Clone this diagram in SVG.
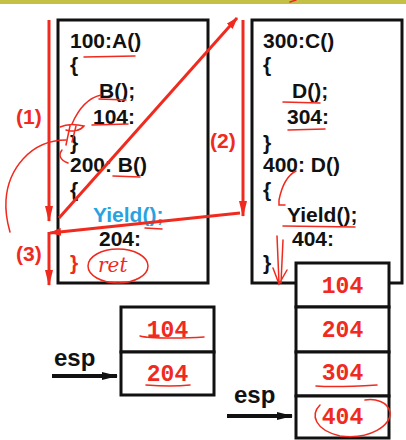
<svg xmlns="http://www.w3.org/2000/svg" width="406" height="440" viewBox="0 0 406 440">
<defs>
<style>
.code{font-family:"Liberation Sans",Arial,sans-serif;font-weight:bold;font-size:21px;fill:#111}
.esp{font-family:"Liberation Sans",Arial,sans-serif;font-weight:bold;font-size:24px;fill:#111}
.lbl{font-family:"Liberation Sans",Arial,sans-serif;font-weight:bold;font-size:21px;fill:#f02a1e}
.stk{font-family:"Liberation Mono","Courier New",monospace;font-weight:bold;font-size:23px;fill:#f02a1e;text-anchor:middle}
.box{fill:#fff;stroke:#111;stroke-width:3}
.red{stroke:#f02a1e;stroke-width:3;fill:none}
.ink{stroke:#f02a1e;stroke-width:1.5;fill:none;stroke-linecap:round}
</style>
<marker id="rb" markerWidth="16" markerHeight="8" refX="15" refY="4" orient="auto" markerUnits="userSpaceOnUse" viewBox="0 0 16 8"><path d="M0,0 L16,4 L0,8 z" fill="#f02a1e"/></marker>
<marker id="rc" markerWidth="12" markerHeight="8" refX="11" refY="4" orient="auto" markerUnits="userSpaceOnUse" viewBox="0 0 12 8"><path d="M0,0 L12,4 L0,8 z" fill="#f02a1e"/></marker>
<marker id="ba" markerWidth="16" markerHeight="10" refX="15" refY="5" orient="auto" markerUnits="userSpaceOnUse" viewBox="0 0 16 10"><path d="M0,1 L16,5 L0,9 z" fill="#111"/></marker>
</defs>
<rect x="0" y="0" width="406" height="440" fill="#fff"/>
<rect x="0" y="0" width="406" height="4" fill="#c4c046"/>

<g id="funcAB">
<rect class="box" x="58" y="20" width="150" height="263"/>
<text class="code" x="70" y="48">100:A()</text>
<text class="code" x="70" y="72">{</text>
<text class="code" x="99" y="98">B();</text>
<text class="code" x="93" y="124">104:</text>
<text class="code" x="70" y="150">}</text>
<text class="code" x="70" y="172">200: B()</text>
<text class="code" x="70" y="197">{</text>
<text class="code" x="93" y="222" style="fill:#29a3e0">Yield();</text>
<text class="code" x="99" y="246">204:</text>
<text class="code" x="70" y="270" style="fill:#f02a1e">}</text>
</g>

<g id="funcCD">
<rect class="box" x="252" y="20" width="150" height="263"/>
<text class="code" x="263" y="48">300:C()</text>
<text class="code" x="263" y="72">{</text>
<text class="code" x="292" y="98">D();</text>
<text class="code" x="287" y="124">304:</text>
<text class="code" x="263" y="150">}</text>
<text class="code" x="263" y="172">400: D()</text>
<text class="code" x="263" y="197">{</text>
<text class="code" x="287" y="222">Yield();</text>
<text class="code" x="292" y="246">404:</text>
<text class="code" x="263" y="270">}</text>
</g>

<g id="stack1">
<rect class="box" x="121" y="307" width="93" height="45"/>
<rect class="box" x="121" y="352" width="93" height="43"/>
<text class="stk" x="167.5" y="337">104</text>
<text class="stk" x="167.5" y="381">204</text>
</g>

<g id="stack2">
<rect class="box" x="296" y="263" width="93" height="44"/>
<rect class="box" x="296" y="307" width="93" height="45"/>
<rect class="box" x="296" y="352" width="93" height="44"/>
<rect class="box" x="296" y="396" width="93" height="42"/>
<text class="stk" x="342.5" y="293">104</text>
<text class="stk" x="342.5" y="337">204</text>
<text class="stk" x="342.5" y="380">304</text>
<text class="stk" x="342.5" y="424">404</text>
</g>

<g id="esp1">
<text class="esp" x="54" y="366">esp</text>
</g>
<g id="esp2">
<text class="esp" x="234" y="403">esp</text>
</g>

<g id="labels">
<text class="lbl" x="16" y="124">(1)</text>
<text class="lbl" x="210" y="148">(2)</text>
<text class="lbl" x="16" y="261">(3)</text>
</g>

<g id="connectors">
<line x1="52" y1="376" x2="117" y2="376" stroke="#111" stroke-width="4" marker-end="url(#ba)"/>
<line x1="227" y1="416" x2="292" y2="416" stroke="#111" stroke-width="4" marker-end="url(#ba)"/>
<line class="red" x1="49" y1="20" x2="49" y2="221" marker-end="url(#rb)"/>
<line class="red" x1="49" y1="232" x2="49" y2="285" marker-end="url(#rb)"/>
<line class="red" x1="243" y1="20" x2="243" y2="216" marker-end="url(#rb)"/>
<line class="red" stroke-width="2.5" x1="59" y1="218" x2="237" y2="18" marker-end="url(#rc)"/>
<line class="red" stroke-width="2.5" x1="240" y1="213" x2="50" y2="233" marker-end="url(#rc)"/>
</g>

<g id="annotations">
<path class="ink" d="M84,57 L135,56"/>
<path class="ink" d="M99,99 L126,100"/>
<path class="ink" d="M92,125 L128,124"/>
<path class="ink" d="M101,95 C88,98 78,110 72,124"/>
<path class="ink" d="M60,127 C66,124 76,124 84,126 C80,131 72,132 66,130 M70,126 L66,145 M76,126 L72,142"/>
<path class="ink" d="M66,140 C30,140 8,170 6,200 C5,215 8,225 10,232"/>
<path class="ink" d="M62,150 C58,155 60,160 68,163"/>
<path class="ink" d="M113,176 L140,177"/>
<path class="ink" d="M145,228 L162,229"/>
<ellipse class="ink" cx="118" cy="266" rx="30" ry="17"/>
<text x="98" y="272" style="font-family:'DejaVu Serif',serif;font-style:italic;font-size:20px;fill:#f02a1e">ret</text>
<path class="ink" d="M283,102 L320,103"/>
<path class="ink" d="M288,130 L325,129"/>
<path class="ink" d="M296,171 C288,175 282,185 279,200 L279,205 L285,205"/>
<path class="ink" d="M283,226 L355,227"/>
<path class="ink" d="M277,236 L279,283 M283,240 L281,283 M273,268 L279,284 L287,270"/>
<path class="ink" d="M140,336 C150,339 190,338 204,337"/>
<path class="ink" d="M146,385 C160,386 180,386 190,385"/>
<path class="ink" d="M316,386 C330,387 360,386 377,385"/>
<path class="ink" d="M320,405 C310,415 315,430 340,436 C370,440 392,425 390,412 C388,402 375,398 365,400"/>
<path class="ink" d="M290,2 L296,0"/>
</g>
</svg>
